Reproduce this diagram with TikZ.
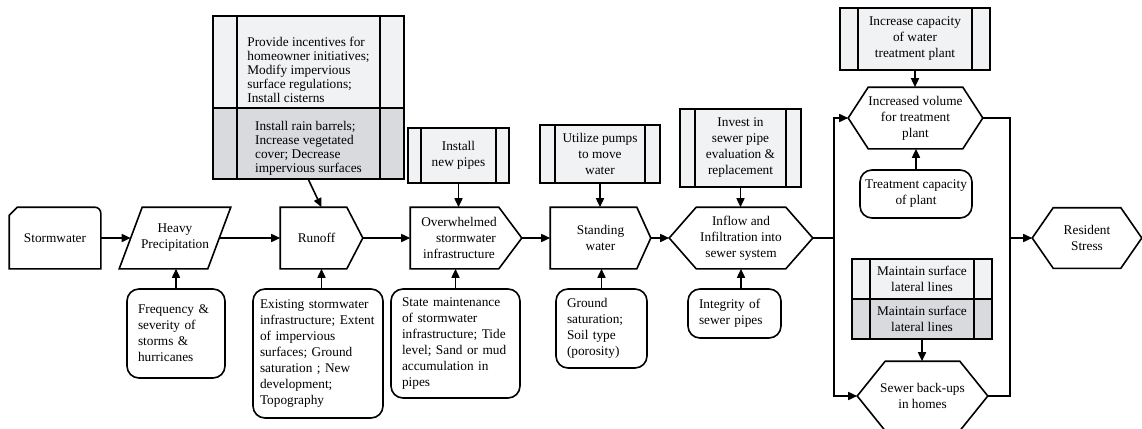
\documentclass[tikz,border=0pt]{standalone}
\usepackage{fontspec}
\setmainfont{Liberation Serif}
\usetikzlibrary{arrows.meta}
\definecolor{lightfill}{RGB}{241,242,244}
\definecolor{darkfill}{RGB}{217,218,221}
\tikzset{
  flow/.style={minimum height=60pt, inner sep=0pt, align=center},
  action/.style={draw, fill=lightfill, align=center, inner sep=0pt,
    path picture={\draw ([xshift=#1]path picture bounding box.north west) -- ([xshift=#1]path picture bounding box.south west)
      ([xshift=-#1]path picture bounding box.north east) -- ([xshift=-#1]path picture bounding box.south east);}},
  factor/.style={draw, rounded corners=12pt, align=left, inner xsep=11pt, inner ysep=0pt},
  tight/.style={font=\fontsize{13.3}{14}\selectfont},
}
\begin{document}
\begin{tikzpicture}[x=1pt, y=-1pt, line width=1.6pt, font=\fontsize{13.3}{16}\selectfont,
    >={Triangle[length=9pt,width=8pt]}]
    \useasboundingbox (0,0) rectangle (1142,428);

    % main chain
    \node[flow, minimum width=90pt] (storm) at (55,238) {Stormwater};
    \node[flow, minimum width=110pt] (rain) at (175,238) {Heavy\\Precipitation};
    \node[flow, minimum width=81pt] (runoff) at (321.5,238) {Runoff\hspace*{10pt}};
    \node[flow, minimum width=110pt] (overwhelm) at (466,238)
      {Overwhelmed\hspace*{14pt}\\stormwater\hspace*{14pt}\\infrastructure\hspace*{14pt}};
    \node[flow, minimum width=99pt] (standing) at (600.5,238) {Standing\\water};
    \node[flow, minimum width=142pt] (inflow) at (741,238) {Inflow and\\Infiltration into\\sewer system};
    \node[flow, minimum width=133pt] (volume) at (915.5,118) {Increased volume\\for treatment\\plant};
    \node[flow, minimum width=129pt, minimum height=68pt] (backup) at (922.5,396) {Sewer back-ups\\in homes};
    \node[flow, minimum width=108pt, minimum height=59pt] (stress) at (1087,238) {Resident\\Stress};

    % outlines
    \draw (storm.south west) -- ([yshift=-8]storm.north west) -- ([xshift=8]storm.north west)
      -- ([xshift=-6]storm.north east) arc[start angle=90, end angle=0, radius=6pt] -- (storm.south east) -- cycle;
    \draw ([xshift=23]rain.north west) -- (rain.north east) -- ([xshift=-23]rain.south east) -- (rain.south west) -- cycle;
    \foreach \n/\d in {runoff/16, overwhelm/23, standing/14}
      \draw (\n.north west) -- ([xshift=-\d]\n.north east) -- (\n.east) -- ([xshift=-\d]\n.south east) -- (\n.south west) -- cycle;
    \foreach \n/\d in {inflow/27, volume/20, backup/28, stress/21}
      \draw (\n.west) -- ([xshift=\d]\n.north west) -- ([xshift=-\d]\n.north east) -- (\n.east)
        -- ([xshift=-\d]\n.south east) -- ([xshift=\d]\n.south west) -- cycle;

    % actions
    \node[action=24, tight, align=left, minimum width=191pt, minimum height=92pt] (incent) at (308.5,62)
      {\rule{0pt}{25pt}Provide incentives for\\homeowner initiatives;\\Modify impervious\\surface regulations;\\Install cisterns};
    \node[action=24, tight, fill=darkfill, align=left, minimum width=191pt, minimum height=71pt] (barrel) at (308.5,143.5)
      {\rule{0pt}{18pt}Install rain barrels;\\Increase vegetated\\cover; Decrease\\impervious surfaces};
    \node[action=13, minimum width=101pt, minimum height=55pt] (pipes) at (458.5,155.5) {Install\\new pipes};
    \node[action=15, minimum width=120pt, minimum height=58pt] (pumps) at (600,154) {Utilize pumps\\to move\\water};
    \node[action=15, minimum width=121pt, minimum height=78pt] (invest) at (740.5,148) {Invest in\\sewer pipe\\evaluation \&\\replacement};
    \node[action=18, minimum width=150pt, minimum height=62pt] (capacity) at (915,39) {Increase capacity\\of water\\treatment plant};
    \node[action=18, minimum width=140pt, minimum height=40pt] (lateral1) at (922,279) {Maintain surface\\lateral lines};
    \node[action=18, fill=darkfill, minimum width=140pt, minimum height=40pt] (lateral2) at (922,319) {Maintain surface\\lateral lines};

    % factors
    \node[factor, text width=76pt, minimum height=89pt] (freq) at (176,333.5) {Frequency \&\\severity of\\storms \&\\hurricanes};
    \node[factor, inner xsep=7pt, text width=116pt, minimum height=129pt] (exist) at (318,353.5)
      {Existing stormwater\\infrastructure; Extent\\of impervious\\surfaces; Ground\\saturation ; New\\development;\\Topography};
    \node[factor, text width=107pt, minimum height=109pt] (state) at (455.5,343.5)
      {State maintenance\\of stormwater\\infrastructure; Tide\\level; Sand or mud\\accumulation in\\pipes};
    \node[factor, text width=69pt, minimum height=79pt] (ground) at (601.5,328.5) {Ground\\saturation;\\Soil type\\(porosity)};
    \node[factor, text width=71pt, minimum height=49pt] (integrity) at (734.5,313.5) {Integrity of\\sewer pipes};
    \node[factor, align=center, inner xsep=4pt, minimum width=112pt, minimum height=48pt] (treat) at (916,194) {Treatment capacity\\of plant};

    % chain arrows
    \draw[->] (storm.east) -- ([xshift=11.5]rain.west);
    \draw[->] ([xshift=-11.5]rain.east) -- (runoff.west);
    \draw[->] (runoff.east) -- (overwhelm.west);
    \draw[->] (overwhelm.east) -- (standing.west);
    \draw[->] (standing.east) -- (inflow.west);
    \coordinate (split) at (834,238);
    \coordinate (merge) at (1010,238);
    \draw (inflow.east) -- (split);
    \draw[->] (split) |- (volume.west);
    \draw[->] (split) |- (backup.west);
    \draw (volume.east) -| (merge);
    \draw (backup.east) -| (merge);
    \draw[->] (merge) -- (stress.west);

    % actions and factors into the chain
    \draw[->] (barrel.south) -- (runoff.north);
    \draw[->] (pipes.south) -- (pipes.south |- overwhelm.north);
    \draw[->] (pumps.south) -- (pumps.south |- standing.north);
    \draw[->] (invest.south) -- (invest.south |- inflow.north);
    \draw[->] (capacity.south) -- (capacity.south |- volume.north);
    \draw[->] (treat.north) -- (treat.north |- volume.south);
    \draw[->] (lateral2.south) -- (lateral2.south |- backup.north);
    \draw[->] (freq.north) -- (freq.north |- rain.south);
    \draw[->] (runoff.south |- exist.north) -- (runoff.south);
    \draw[->] (state.north) -- (state.north |- overwhelm.south);
    \draw[->] (ground.north) -- (ground.north |- standing.south);
    \draw[->] (inflow.south |- integrity.north) -- (inflow.south);
\end{tikzpicture}
\end{document}
